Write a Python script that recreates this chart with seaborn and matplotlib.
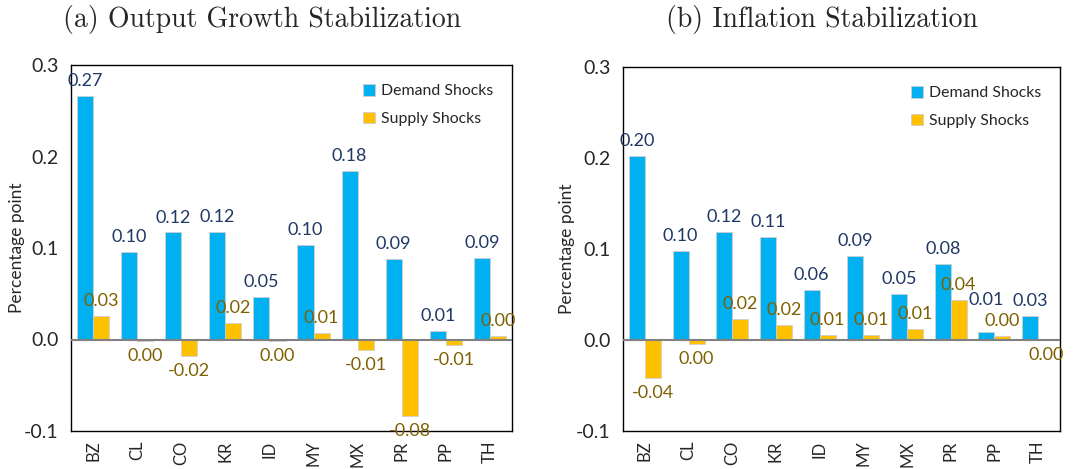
import matplotlib
matplotlib.use("Agg")
import matplotlib.pyplot as plt
import seaborn as sns
import pandas as pd

countries = ["BZ", "CL", "CO", "KR", "ID", "MY", "MX", "PR", "PP", "TH"]

# (a) Output growth stabilization
output_demand = [0.266, 0.096, 0.117, 0.118, 0.046, 0.103, 0.184, 0.088, 0.009, 0.089]
output_supply = [0.026, -0.002, -0.018, 0.018, -0.002, 0.007, -0.012, -0.084, -0.006, 0.004]

# (b) Inflation stabilization
infl_demand = [0.202, 0.098, 0.119, 0.113, 0.055, 0.092, 0.051, 0.084, 0.009, 0.026]
infl_supply = [-0.042, -0.004, 0.023, 0.016, 0.006, 0.006, 0.012, 0.044, 0.004, -0.0005]

series_names = ["Demand Shocks", "Supply Shocks"]
titles = ["(a) Output Growth Stabilization", "(b) Inflation Stabilization"]
yticks = [-0.1, 0.0, 0.1, 0.2, 0.3]
ytick_labels = ["-0.1", "0.0", "0.1", "0.2", "0.3"]

BLUE = "#00B0F0"
GOLD = "#FFC000"
BLUE_TXT = "#1F3864"
GOLD_TXT = "#7F6000"

sns.set_theme(style="white")
plt.rcParams["font.family"] = ["Lato", "DejaVu Sans"]


def fmt(v):
    s = f"{v:.2f}"
    return "0.00" if s == "-0.00" else s


def long_frame(demand, supply):
    rows = []
    for c, d, s in zip(countries, demand, supply):
        rows.append({"Country": c, "Shock": series_names[0], "Value": d})
        rows.append({"Country": c, "Shock": series_names[1], "Value": s})
    return pd.DataFrame(rows)


fig = plt.figure(figsize=(10.82, 4.69), dpi=100)
axes = [
    fig.add_axes([71 / 1082, 38 / 469, 441 / 1082, 366 / 469]),
    fig.add_axes([623 / 1082, 38 / 469, 437 / 1082, 364 / 469]),
]
panels = [(output_demand, output_supply), (infl_demand, infl_supply)]
title_x = [262 / 1082, 822 / 1082]
ylabel_x = [-0.105, -0.11]

for i, (ax, (dem, sup), title, tx) in enumerate(zip(axes, panels, titles, title_x)):
    df = long_frame(dem, sup)
    sns.barplot(data=df, x="Country", y="Value", hue="Shock", order=countries,
                hue_order=series_names, palette=[BLUE, GOLD], saturation=1,
                width=0.73, edgecolor="#cfcfcf", linewidth=0.6, ax=ax, legend=True)
    ax.set_ylim(-0.1, 0.3)
    ax.set_xlim(-0.5, len(countries) - 0.5)
    ax.axhline(0, color="#808080", lw=1.5, zorder=3)
    ax.set_yticks(yticks)
    ax.set_yticklabels(ytick_labels, fontsize=14)
    ax.tick_params(axis="x", labelrotation=90, labelsize=12, length=0, pad=7)
    ax.tick_params(axis="y", length=0, pad=9)
    ax.set_xlabel("")
    ax.set_ylabel("Percentage point", fontsize=12.5)
    ax.yaxis.set_label_coords(ylabel_x[i], 0.5)
    for sp in ax.spines.values():
        sp.set_color("black")
        sp.set_linewidth(1.0)

    dem_txt = ax.bar_label(ax.containers[0], labels=[fmt(v) for v in dem],
                           padding=5, fontsize=13, color=BLUE_TXT)
    sup_txt = ax.bar_label(ax.containers[1], labels=[fmt(v) for v in sup],
                           padding=5, fontsize=13, color=GOLD_TXT)
    if i == 1:
        # lift the PP demand label clear of its neighbouring supply label
        pp = countries.index("PP")
        x0, y0 = dem_txt[pp].xyann
        dem_txt[pp].xyann = (x0, y0 + 12)

    ax.legend(loc="upper right", frameon=False, fontsize=11.4,
              handlelength=0.75, handleheight=0.75, handletextpad=0.35,
              labelspacing=0.85, borderaxespad=0.8)
    fig.text(tx, 0.958, title, ha="center", va="center",
             fontsize=20, family="cmr10")

fig.savefig("out.png", dpi=100)
